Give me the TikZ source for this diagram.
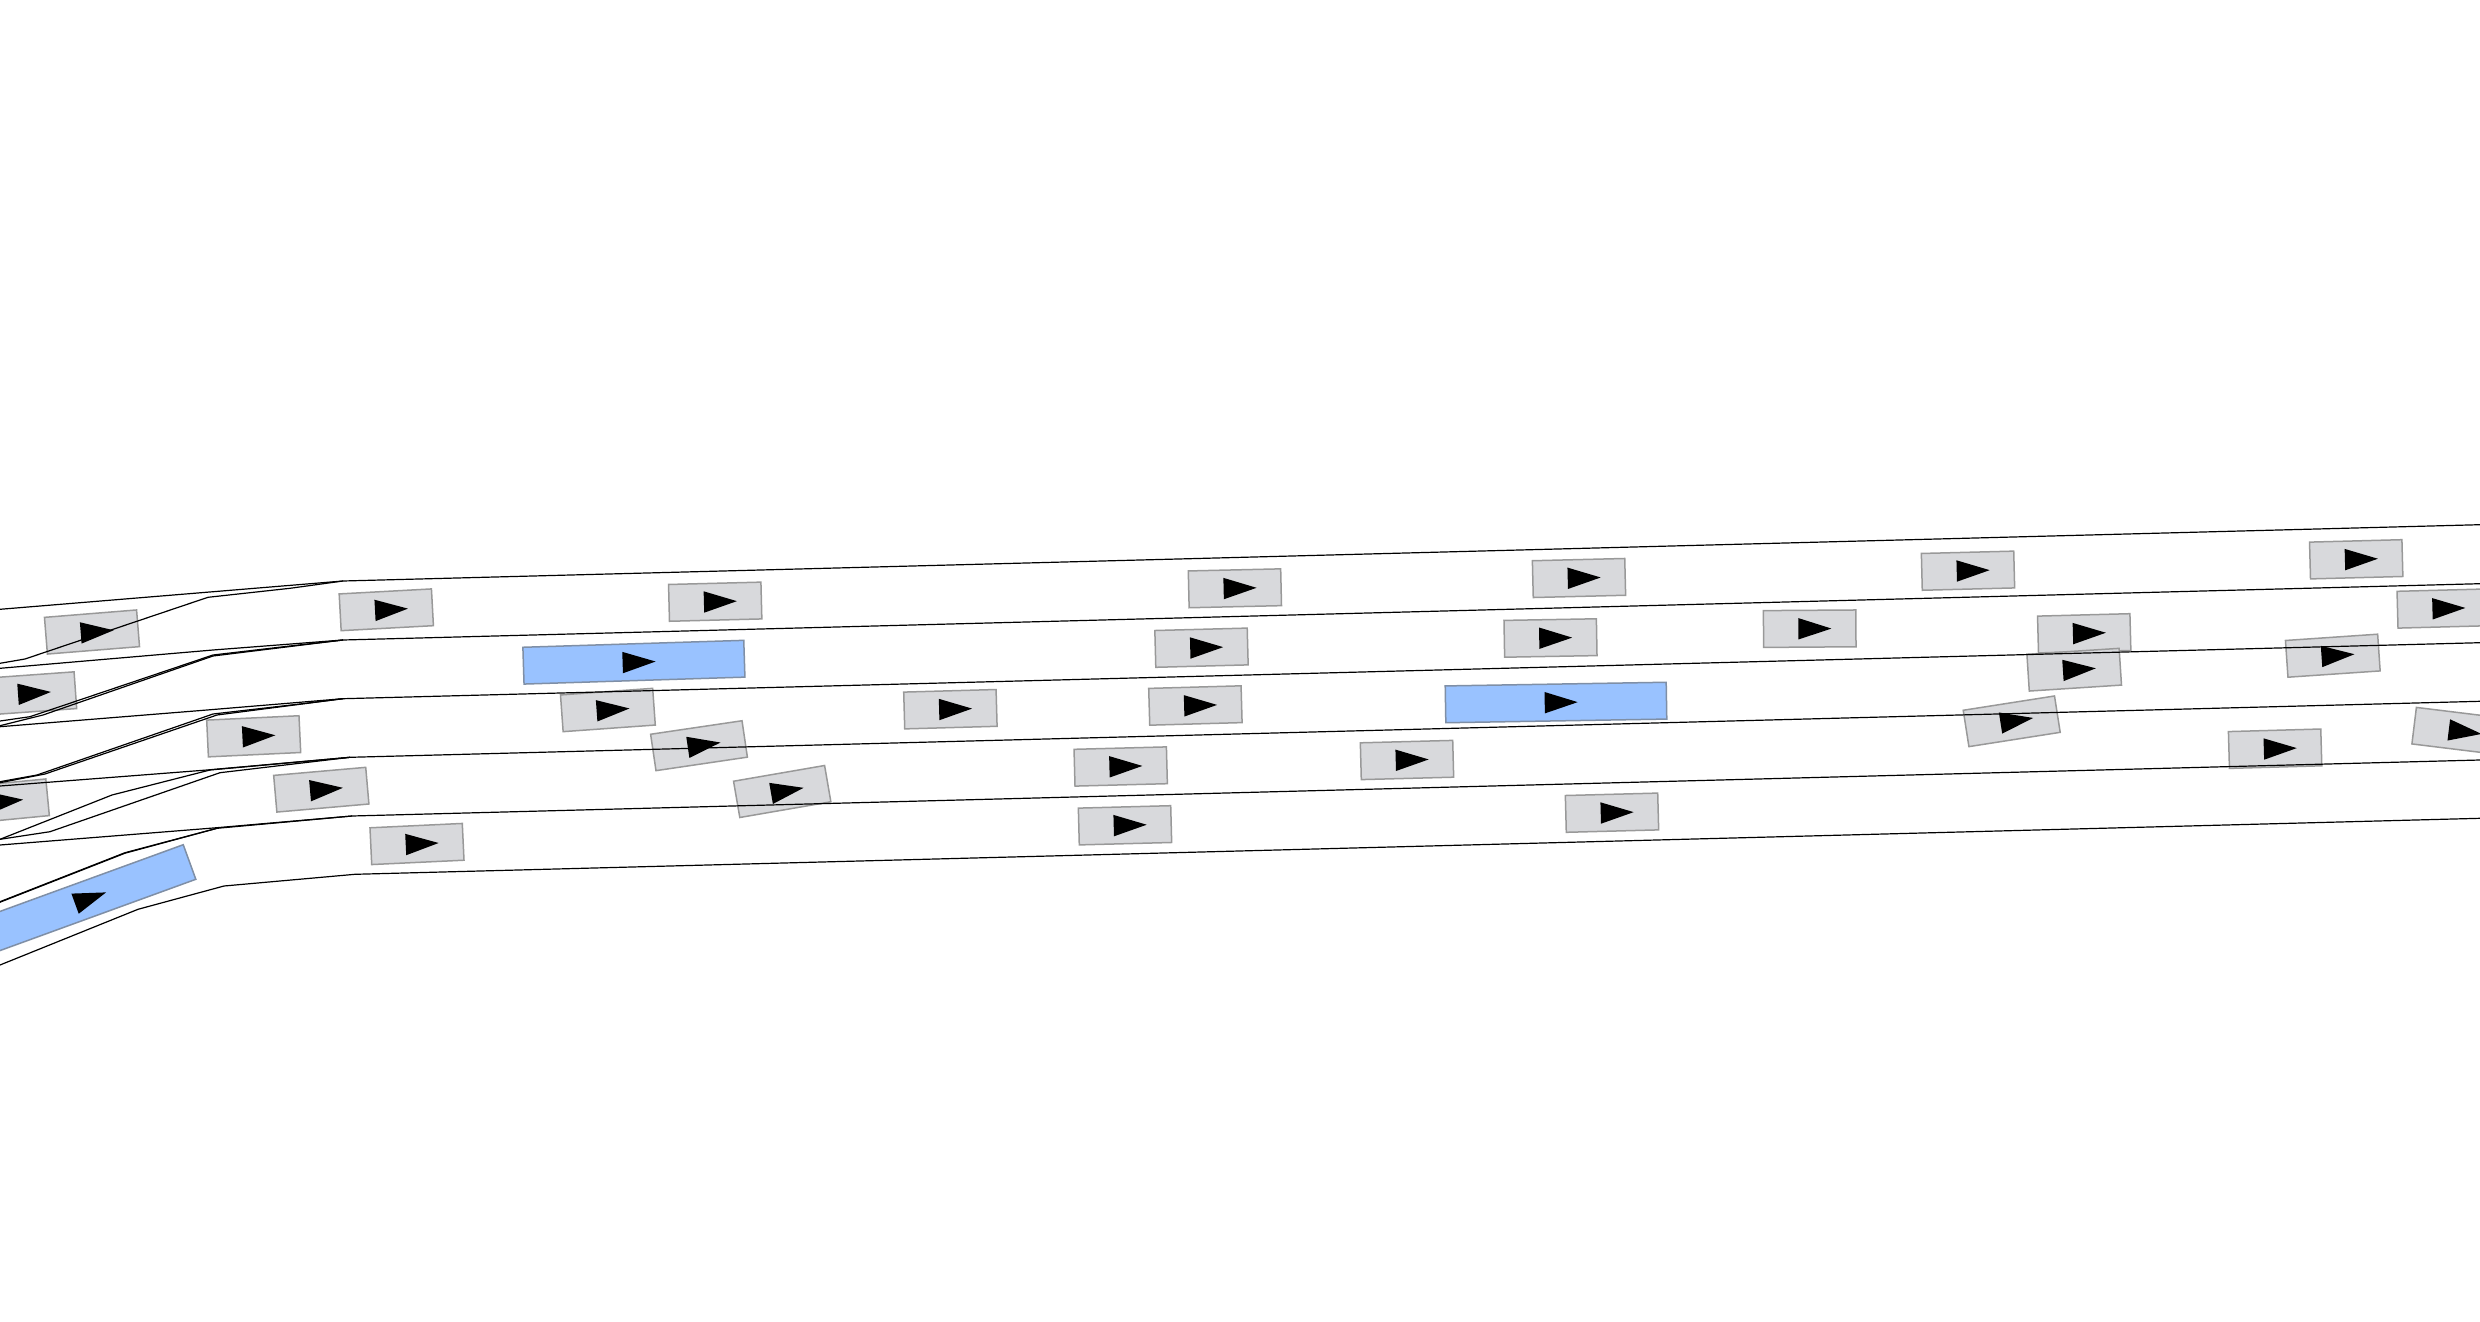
\documentclass[tikz,border=0pt]{standalone}
\definecolor{cargrey}{HTML}{D8D9DC}
\definecolor{carblue}{HTML}{99C2FF}
\definecolor{caredge}{HTML}{999999}
\definecolor{busedge}{HTML}{7F8FA6}
\tikzset{
  roadline/.style={draw=black,line width=0.6pt,line join=round},
  carbody/.style={fill=cargrey,draw=caredge,line width=0.75pt},
  busbody/.style={fill=carblue,draw=busedge,line width=0.75pt},
  heading/.style={fill=black,draw=none}
}
\newcommand{\carat}[3]{% x, y, angle (counter-clockwise)
  \fill[carbody,shift={(#1,#2)},rotate=#3] (-46.2,-18.4) rectangle (46.2,18.4);
}
\newcommand{\busat}[3]{%
  \fill[busbody,shift={(#1,#2)},rotate=#3] (-110.5,-18.4) rectangle (110.5,18.4);
}
\newcommand{\headat}[3]{%
  \fill[heading,shift={(#1,#2)},rotate=#3] (-11.3,-10.7) -- (21.7,0) -- (-11.3,10.7) -- cycle;
}
\begin{document}
\begin{tikzpicture}[x=0.5pt,y=-0.5pt]
\useasboundingbox (0,0) rectangle (2480,1322);
\fill[white] (0,0) rectangle (2480,1322);
\clip (0,0) rectangle (2480,1322);
% vehicles
\carat{92}{632}{4.6}
\carat{29.3}{693.5}{4.1}
\carat{253.7}{736.3}{2.7}
\carat{321.3}{789.7}{5}
\carat{1.6}{801.7}{5.5}
\carat{417}{844}{2.7}
\busat{85.7}{899.8}{20}
\carat{386.3}{609.8}{3.1}
\carat{715.2}{601.7}{1.45}
\busat{633.9}{662.2}{1.8}
\carat{607.9}{710}{4.1}
\carat{699}{745.7}{8.4}
\carat{782.2}{791.5}{9.8}
\carat{950.4}{709.2}{1.6}
\carat{1234.9}{588.3}{1.3}
\carat{1201.5}{647.7}{1.5}
\carat{1195.4}{705.5}{1.6}
\carat{1120.7}{766.5}{1.5}
\carat{1125}{825.3}{1.5}
\carat{1407}{760}{1.5}
\carat{1579}{578}{1.4}
\carat{1550.5}{638}{1}
\carat{1809.7}{628.7}{0.4}
\busat{1556}{702.5}{0.95}
\carat{1612}{812.7}{1.5}
\carat{1968}{570.7}{1.45}
\carat{2356.2}{559.3}{1.5}
\carat{2443.7}{608.5}{1.5}
\carat{2084.2}{633.3}{1.5}
\carat{2074.2}{669.7}{3.7}
\carat{2332.8}{655.7}{3.9}
\carat{2011.7}{721.3}{8.9}
\carat{2275.1}{748.7}{1.6}
\carat{2460}{731.3}{-7}
% road edges
\draw[roadline] (0,609.3) -- (343,581) -- (2480,524.7);
\draw[roadline] (0,663.3) -- (25,659) -- (208,597.3) -- (290,588.3) -- (343,581);
\draw[roadline] (0,668.3) -- (213,650) -- (343,640) -- (2480,583.7);
\draw[roadline] (0,721) -- (30,716.7) -- (213,655) -- (290,646) -- (343,640);
\draw[roadline] (0,725.7) -- (43,715) -- (213,656) -- (343,640);
\draw[roadline] (0,726.7) -- (207,710) -- (343,698.7) -- (2480,642.7);
\draw[roadline] (0,781.7) -- (37,775) -- (213,714) -- (300,704) -- (343,698.7);
\draw[roadline] (0,782.7) -- (45,774) -- (217,715) -- (343,698.7);
\draw[roadline] (0,786) -- (207,770) -- (350,757.3) -- (2480,701.3);
\draw[roadline] (0,839.3) -- (112,795) -- (210,770) -- (350,757.3);
\draw[roadline] (0,839.3) -- (50,831.7) -- (220,772.7) -- (350,757.3);
\draw[roadline] (0,845) -- (217,827.7) -- (352,816) -- (2480,760);
\draw[roadline] (0,901.7) -- (125,852.7) -- (217,828.3) -- (352,816);
\draw[roadline] (0,902.2) -- (125,853.2) -- (217,828.3);
\draw[roadline] (0,965) -- (138,909.3) -- (224,886) -- (355,874.3) -- (2480,818.3);
% heading marks
\headat{92}{632}{4.6}
\headat{29.3}{693.5}{4.1}
\headat{253.7}{736.3}{2.7}
\headat{321.3}{789.7}{5}
\headat{1.6}{801.7}{5.5}
\headat{417}{844}{2.7}
\headat{85.7}{899.8}{20}
\headat{386.3}{609.8}{3.1}
\headat{715.2}{601.7}{1.45}
\headat{633.9}{662.2}{1.8}
\headat{607.9}{710}{4.1}
\headat{699}{745.7}{8.4}
\headat{782.2}{791.5}{9.8}
\headat{950.4}{709.2}{1.6}
\headat{1234.9}{588.3}{1.3}
\headat{1201.5}{647.7}{1.5}
\headat{1195.4}{705.5}{1.6}
\headat{1120.7}{766.5}{1.5}
\headat{1125}{825.3}{1.5}
\headat{1407}{760}{1.5}
\headat{1579}{578}{1.4}
\headat{1550.5}{638}{1}
\headat{1809.7}{628.7}{0.4}
\headat{1556}{702.5}{0.95}
\headat{1612}{812.7}{1.5}
\headat{1968}{570.7}{1.45}
\headat{2356.2}{559.3}{1.5}
\headat{2443.7}{608.5}{1.5}
\headat{2084.2}{633.3}{1.5}
\headat{2074.2}{669.7}{3.7}
\headat{2332.8}{655.7}{3.9}
\headat{2011.7}{721.3}{8.9}
\headat{2275.1}{748.7}{1.6}
\headat{2460}{731.3}{-7}
\end{tikzpicture}
\end{document}
